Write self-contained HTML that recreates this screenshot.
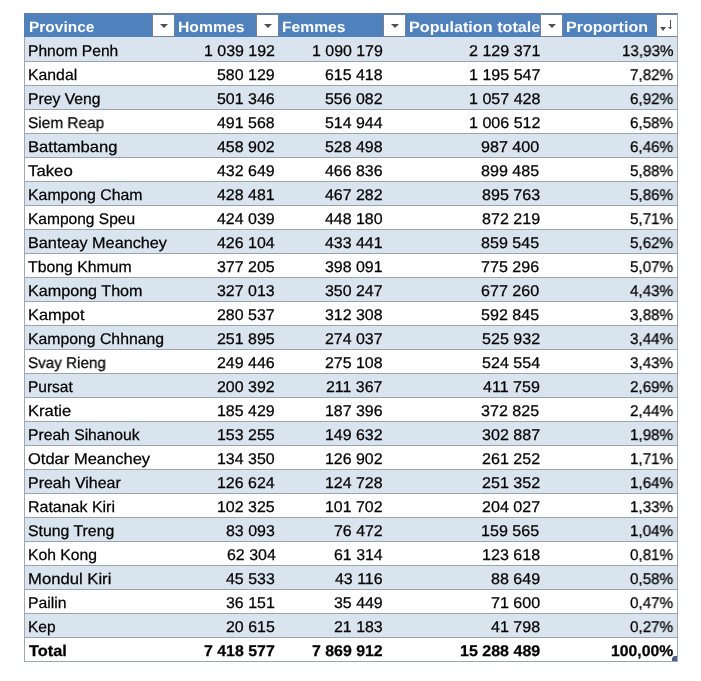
<!DOCTYPE html><html><head><meta charset="utf-8"><style>
html,body{margin:0;padding:0;background:#fff;width:701px;height:681px;overflow:hidden;position:relative;font-family:"Liberation Sans",sans-serif;}
.a{position:absolute;}
.t{position:absolute;white-space:nowrap;line-height:1;transform-origin:0 0;-webkit-text-stroke:0.25px currentColor;will-change:transform;text-rendering:geometricPrecision;}
.btn{position:absolute;width:21px;height:21px;background:#fff;border:1px solid #71829A;}
.tri{position:absolute;width:0;height:0;border-left:4px solid transparent;border-right:4px solid transparent;border-top:4px solid #505050;}
</style></head><body>

<div class="a" style="left:24px;top:13px;width:654px;height:24px;background:#4F81BD"></div>
<div class="t" style="left:28.57px;top:19.90px;font-size:15.0px;font-weight:bold;-webkit-text-stroke:0px #fff;color:#fff;transform:scaleX(1.0312)">Province</div>
<div class="t" style="left:178.35px;top:19.90px;font-size:15.0px;font-weight:bold;-webkit-text-stroke:0px #fff;color:#fff;transform:scaleX(1.0491)">Hommes</div>
<div class="t" style="left:281.56px;top:19.90px;font-size:15.0px;font-weight:bold;-webkit-text-stroke:0px #fff;color:#fff;transform:scaleX(1.0418)">Femmes</div>
<div class="t" style="left:409.02px;top:19.90px;font-size:15.0px;font-weight:bold;-webkit-text-stroke:0px #fff;color:#fff;transform:scaleX(1.0792)">Population totale</div>
<div class="t" style="left:565.93px;top:19.90px;font-size:15.0px;font-weight:bold;-webkit-text-stroke:0px #fff;color:#fff;transform:scaleX(1.0697)">Proportion</div>
<div class="btn" style="left:152px;top:14px"></div>
<div class="tri" style="left:159.5px;top:24px"></div>
<div class="btn" style="left:256px;top:14px"></div>
<div class="tri" style="left:263.5px;top:24px"></div>
<div class="btn" style="left:383px;top:14px"></div>
<div class="tri" style="left:390.5px;top:24px"></div>
<div class="btn" style="left:540px;top:14px"></div>
<div class="tri" style="left:547.5px;top:24px"></div>
<div class="btn" style="left:656px;top:14px;width:20px"></div>
<div class="tri" style="left:660.3px;top:27px;border-left-width:3.7px;border-right-width:3.7px"></div>
<div class="a" style="left:670px;top:20px;width:1px;height:9px;background:#505050"></div>
<div class="tri" style="left:668px;top:27px;border-left-width:2px;border-right-width:2px;border-top-width:2.5px"></div>
<div class="a" style="left:24px;top:37px;width:653px;height:24px;background:#D9E4EE"></div>
<div class="a" style="left:24px;top:61px;width:653px;height:1px;background:#9BA5AF"></div>
<div class="t" style="left:28.43px;top:43.68px;font-size:15.5px;color:#000;transform:scaleX(1.0072)">Phnom Penh</div>
<div class="t" style="left:204.14px;top:43.68px;font-size:15.5px;color:#000;transform:scaleX(1.0295)">1 039 192</div>
<div class="t" style="left:311.99px;top:43.68px;font-size:15.5px;color:#000;transform:scaleX(1.0272)">1 090 179</div>
<div class="t" style="left:468.73px;top:43.68px;font-size:15.5px;color:#000;transform:scaleX(1.0369)">2 129 371</div>
<div class="t" style="left:621.90px;top:43.68px;font-size:15.5px;color:#000;transform:scaleX(0.9798)">13,93%</div>
<div class="a" style="left:24px;top:85px;width:653px;height:1px;background:#9BA5AF"></div>
<div class="t" style="left:28.02px;top:67.68px;font-size:15.5px;color:#000;transform:scaleX(1.0189)">Kandal</div>
<div class="t" style="left:217.31px;top:67.68px;font-size:15.5px;color:#000;transform:scaleX(1.0295)">580 129</div>
<div class="t" style="left:325.11px;top:67.68px;font-size:15.5px;color:#000;transform:scaleX(1.0272)">615 418</div>
<div class="t" style="left:468.79px;top:67.68px;font-size:15.5px;color:#000;transform:scaleX(1.0369)">1 195 547</div>
<div class="t" style="left:629.88px;top:67.68px;font-size:15.5px;color:#000;transform:scaleX(0.9798)">7,82%</div>
<div class="a" style="left:24px;top:86px;width:653px;height:23px;background:#D9E4EE"></div>
<div class="a" style="left:24px;top:109px;width:653px;height:1px;background:#9BA5AF"></div>
<div class="t" style="left:28.42px;top:91.68px;font-size:15.5px;color:#000;transform:scaleX(1.0134)">Prey Veng</div>
<div class="t" style="left:216.74px;top:91.68px;font-size:15.5px;color:#000;transform:scaleX(1.0295)">501 346</div>
<div class="t" style="left:325.15px;top:91.68px;font-size:15.5px;color:#000;transform:scaleX(1.0272)">556 082</div>
<div class="t" style="left:468.69px;top:91.68px;font-size:15.5px;color:#000;transform:scaleX(1.0369)">1 057 428</div>
<div class="t" style="left:629.88px;top:91.68px;font-size:15.5px;color:#000;transform:scaleX(0.9798)">6,92%</div>
<div class="a" style="left:24px;top:133px;width:653px;height:1px;background:#9BA5AF"></div>
<div class="t" style="left:27.92px;top:115.68px;font-size:15.5px;color:#000;transform:scaleX(0.9939)">Siem Reap</div>
<div class="t" style="left:217.28px;top:115.68px;font-size:15.5px;color:#000;transform:scaleX(1.0295)">491 568</div>
<div class="t" style="left:325.26px;top:115.68px;font-size:15.5px;color:#000;transform:scaleX(1.0272)">514 944</div>
<div class="t" style="left:468.73px;top:115.68px;font-size:15.5px;color:#000;transform:scaleX(1.0369)">1 006 512</div>
<div class="t" style="left:629.88px;top:115.68px;font-size:15.5px;color:#000;transform:scaleX(0.9798)">6,58%</div>
<div class="a" style="left:24px;top:134px;width:653px;height:23px;background:#D9E4EE"></div>
<div class="a" style="left:24px;top:157px;width:653px;height:1px;background:#9BA5AF"></div>
<div class="t" style="left:28.47px;top:139.68px;font-size:15.5px;color:#000;transform:scaleX(1.0711)">Battambang</div>
<div class="t" style="left:217.32px;top:139.68px;font-size:15.5px;color:#000;transform:scaleX(1.0295)">458 902</div>
<div class="t" style="left:325.11px;top:139.68px;font-size:15.5px;color:#000;transform:scaleX(1.0272)">528 498</div>
<div class="t" style="left:481.42px;top:139.68px;font-size:15.5px;color:#000;transform:scaleX(1.0369)">987 400</div>
<div class="t" style="left:629.88px;top:139.68px;font-size:15.5px;color:#000;transform:scaleX(0.9798)">6,46%</div>
<div class="a" style="left:24px;top:181px;width:653px;height:1px;background:#9BA5AF"></div>
<div class="t" style="left:27.98px;top:163.68px;font-size:15.5px;color:#000;transform:scaleX(1.0818)">Takeo</div>
<div class="t" style="left:217.31px;top:163.68px;font-size:15.5px;color:#000;transform:scaleX(1.0295)">432 649</div>
<div class="t" style="left:324.57px;top:163.68px;font-size:15.5px;color:#000;transform:scaleX(1.0272)">466 836</div>
<div class="t" style="left:481.42px;top:163.68px;font-size:15.5px;color:#000;transform:scaleX(1.0369)">899 485</div>
<div class="t" style="left:629.88px;top:163.68px;font-size:15.5px;color:#000;transform:scaleX(0.9798)">5,88%</div>
<div class="a" style="left:24px;top:182px;width:653px;height:23px;background:#D9E4EE"></div>
<div class="a" style="left:24px;top:205px;width:653px;height:1px;background:#9BA5AF"></div>
<div class="t" style="left:28.01px;top:187.68px;font-size:15.5px;color:#000;transform:scaleX(1.0223)">Kampong Cham</div>
<div class="t" style="left:217.32px;top:187.68px;font-size:15.5px;color:#000;transform:scaleX(1.0295)">428 481</div>
<div class="t" style="left:325.15px;top:187.68px;font-size:15.5px;color:#000;transform:scaleX(1.0272)">467 282</div>
<div class="t" style="left:481.98px;top:187.68px;font-size:15.5px;color:#000;transform:scaleX(1.0369)">895 763</div>
<div class="t" style="left:629.88px;top:187.68px;font-size:15.5px;color:#000;transform:scaleX(0.9798)">5,86%</div>
<div class="a" style="left:24px;top:229px;width:653px;height:1px;background:#9BA5AF"></div>
<div class="t" style="left:28.03px;top:211.68px;font-size:15.5px;color:#000;transform:scaleX(1.0018)">Kampong Speu</div>
<div class="t" style="left:217.31px;top:211.68px;font-size:15.5px;color:#000;transform:scaleX(1.0295)">424 039</div>
<div class="t" style="left:324.57px;top:211.68px;font-size:15.5px;color:#000;transform:scaleX(1.0272)">448 180</div>
<div class="t" style="left:482.00px;top:211.68px;font-size:15.5px;color:#000;transform:scaleX(1.0369)">872 219</div>
<div class="t" style="left:629.88px;top:211.68px;font-size:15.5px;color:#000;transform:scaleX(0.9798)">5,71%</div>
<div class="a" style="left:24px;top:230px;width:653px;height:23px;background:#D9E4EE"></div>
<div class="a" style="left:24px;top:253px;width:653px;height:1px;background:#9BA5AF"></div>
<div class="t" style="left:28.49px;top:235.68px;font-size:15.5px;color:#000;transform:scaleX(1.0474)">Banteay Meanchey</div>
<div class="t" style="left:217.43px;top:235.68px;font-size:15.5px;color:#000;transform:scaleX(1.0295)">426 104</div>
<div class="t" style="left:325.14px;top:235.68px;font-size:15.5px;color:#000;transform:scaleX(1.0272)">433 441</div>
<div class="t" style="left:481.42px;top:235.68px;font-size:15.5px;color:#000;transform:scaleX(1.0369)">859 545</div>
<div class="t" style="left:629.88px;top:235.68px;font-size:15.5px;color:#000;transform:scaleX(0.9798)">5,62%</div>
<div class="a" style="left:24px;top:277px;width:653px;height:1px;background:#9BA5AF"></div>
<div class="t" style="left:28.02px;top:259.68px;font-size:15.5px;color:#000;transform:scaleX(1.0193)">Tbong Khmum</div>
<div class="t" style="left:216.74px;top:259.68px;font-size:15.5px;color:#000;transform:scaleX(1.0295)">377 205</div>
<div class="t" style="left:325.14px;top:259.68px;font-size:15.5px;color:#000;transform:scaleX(1.0272)">398 091</div>
<div class="t" style="left:481.42px;top:259.68px;font-size:15.5px;color:#000;transform:scaleX(1.0369)">775 296</div>
<div class="t" style="left:629.88px;top:259.68px;font-size:15.5px;color:#000;transform:scaleX(0.9798)">5,07%</div>
<div class="a" style="left:24px;top:278px;width:653px;height:23px;background:#D9E4EE"></div>
<div class="a" style="left:24px;top:301px;width:653px;height:1px;background:#9BA5AF"></div>
<div class="t" style="left:28.00px;top:283.68px;font-size:15.5px;color:#000;transform:scaleX(1.0412)">Kampong Thom</div>
<div class="t" style="left:217.29px;top:283.68px;font-size:15.5px;color:#000;transform:scaleX(1.0295)">327 013</div>
<div class="t" style="left:325.21px;top:283.68px;font-size:15.5px;color:#000;transform:scaleX(1.0272)">350 247</div>
<div class="t" style="left:481.42px;top:283.68px;font-size:15.5px;color:#000;transform:scaleX(1.0369)">677 260</div>
<div class="t" style="left:629.88px;top:283.68px;font-size:15.5px;color:#000;transform:scaleX(0.9798)">4,43%</div>
<div class="a" style="left:24px;top:325px;width:653px;height:1px;background:#9BA5AF"></div>
<div class="t" style="left:27.98px;top:307.68px;font-size:15.5px;color:#000;transform:scaleX(1.0581)">Kampot</div>
<div class="t" style="left:217.38px;top:307.68px;font-size:15.5px;color:#000;transform:scaleX(1.0295)">280 537</div>
<div class="t" style="left:325.11px;top:307.68px;font-size:15.5px;color:#000;transform:scaleX(1.0272)">312 308</div>
<div class="t" style="left:481.42px;top:307.68px;font-size:15.5px;color:#000;transform:scaleX(1.0369)">592 845</div>
<div class="t" style="left:629.88px;top:307.68px;font-size:15.5px;color:#000;transform:scaleX(0.9798)">3,88%</div>
<div class="a" style="left:24px;top:326px;width:653px;height:23px;background:#D9E4EE"></div>
<div class="a" style="left:24px;top:349px;width:653px;height:1px;background:#9BA5AF"></div>
<div class="t" style="left:28.02px;top:331.68px;font-size:15.5px;color:#000;transform:scaleX(1.0185)">Kampong Chhnang</div>
<div class="t" style="left:216.74px;top:331.68px;font-size:15.5px;color:#000;transform:scaleX(1.0295)">251 895</div>
<div class="t" style="left:325.21px;top:331.68px;font-size:15.5px;color:#000;transform:scaleX(1.0272)">274 037</div>
<div class="t" style="left:482.01px;top:331.68px;font-size:15.5px;color:#000;transform:scaleX(1.0369)">525 932</div>
<div class="t" style="left:629.88px;top:331.68px;font-size:15.5px;color:#000;transform:scaleX(0.9798)">3,44%</div>
<div class="a" style="left:24px;top:373px;width:653px;height:1px;background:#9BA5AF"></div>
<div class="t" style="left:27.93px;top:355.68px;font-size:15.5px;color:#000;transform:scaleX(0.9812)">Svay Rieng</div>
<div class="t" style="left:216.74px;top:355.68px;font-size:15.5px;color:#000;transform:scaleX(1.0295)">249 446</div>
<div class="t" style="left:325.11px;top:355.68px;font-size:15.5px;color:#000;transform:scaleX(1.0272)">275 108</div>
<div class="t" style="left:482.12px;top:355.68px;font-size:15.5px;color:#000;transform:scaleX(1.0369)">524 554</div>
<div class="t" style="left:629.88px;top:355.68px;font-size:15.5px;color:#000;transform:scaleX(0.9798)">3,43%</div>
<div class="a" style="left:24px;top:374px;width:653px;height:23px;background:#D9E4EE"></div>
<div class="a" style="left:24px;top:397px;width:653px;height:1px;background:#9BA5AF"></div>
<div class="t" style="left:28.44px;top:379.68px;font-size:15.5px;color:#000;transform:scaleX(0.9938)">Pursat</div>
<div class="t" style="left:217.32px;top:379.68px;font-size:15.5px;color:#000;transform:scaleX(1.0295)">200 392</div>
<div class="t" style="left:326.44px;top:379.68px;font-size:15.5px;color:#000;transform:scaleX(1.0272)">211 367</div>
<div class="t" style="left:483.24px;top:379.68px;font-size:15.5px;color:#000;transform:scaleX(1.0369)">411 759</div>
<div class="t" style="left:629.88px;top:379.68px;font-size:15.5px;color:#000;transform:scaleX(0.9798)">2,69%</div>
<div class="a" style="left:24px;top:421px;width:653px;height:1px;background:#9BA5AF"></div>
<div class="t" style="left:27.97px;top:403.68px;font-size:15.5px;color:#000;transform:scaleX(1.0675)">Kratie</div>
<div class="t" style="left:217.31px;top:403.68px;font-size:15.5px;color:#000;transform:scaleX(1.0295)">185 429</div>
<div class="t" style="left:324.57px;top:403.68px;font-size:15.5px;color:#000;transform:scaleX(1.0272)">187 396</div>
<div class="t" style="left:481.42px;top:403.68px;font-size:15.5px;color:#000;transform:scaleX(1.0369)">372 825</div>
<div class="t" style="left:629.88px;top:403.68px;font-size:15.5px;color:#000;transform:scaleX(0.9798)">2,44%</div>
<div class="a" style="left:24px;top:422px;width:653px;height:23px;background:#D9E4EE"></div>
<div class="a" style="left:24px;top:445px;width:653px;height:1px;background:#9BA5AF"></div>
<div class="t" style="left:28.42px;top:427.68px;font-size:15.5px;color:#000;transform:scaleX(1.0112)">Preah Sihanouk</div>
<div class="t" style="left:216.74px;top:427.68px;font-size:15.5px;color:#000;transform:scaleX(1.0295)">153 255</div>
<div class="t" style="left:325.15px;top:427.68px;font-size:15.5px;color:#000;transform:scaleX(1.0272)">149 632</div>
<div class="t" style="left:482.07px;top:427.68px;font-size:15.5px;color:#000;transform:scaleX(1.0369)">302 887</div>
<div class="t" style="left:629.88px;top:427.68px;font-size:15.5px;color:#000;transform:scaleX(0.9798)">1,98%</div>
<div class="a" style="left:24px;top:469px;width:653px;height:1px;background:#9BA5AF"></div>
<div class="t" style="left:28.01px;top:451.68px;font-size:15.5px;color:#000;transform:scaleX(1.0654)">Otdar Meanchey</div>
<div class="t" style="left:216.74px;top:451.68px;font-size:15.5px;color:#000;transform:scaleX(1.0295)">134 350</div>
<div class="t" style="left:325.15px;top:451.68px;font-size:15.5px;color:#000;transform:scaleX(1.0272)">126 902</div>
<div class="t" style="left:482.01px;top:451.68px;font-size:15.5px;color:#000;transform:scaleX(1.0369)">261 252</div>
<div class="t" style="left:629.88px;top:451.68px;font-size:15.5px;color:#000;transform:scaleX(0.9798)">1,71%</div>
<div class="a" style="left:24px;top:470px;width:653px;height:23px;background:#D9E4EE"></div>
<div class="a" style="left:24px;top:493px;width:653px;height:1px;background:#9BA5AF"></div>
<div class="t" style="left:28.41px;top:475.68px;font-size:15.5px;color:#000;transform:scaleX(1.0285)">Preah Vihear</div>
<div class="t" style="left:217.43px;top:475.68px;font-size:15.5px;color:#000;transform:scaleX(1.0295)">126 624</div>
<div class="t" style="left:325.11px;top:475.68px;font-size:15.5px;color:#000;transform:scaleX(1.0272)">124 728</div>
<div class="t" style="left:482.01px;top:475.68px;font-size:15.5px;color:#000;transform:scaleX(1.0369)">251 352</div>
<div class="t" style="left:629.88px;top:475.68px;font-size:15.5px;color:#000;transform:scaleX(0.9798)">1,64%</div>
<div class="a" style="left:24px;top:517px;width:653px;height:1px;background:#9BA5AF"></div>
<div class="t" style="left:28.41px;top:499.68px;font-size:15.5px;color:#000;transform:scaleX(1.0301)">Ratanak Kiri</div>
<div class="t" style="left:216.74px;top:499.68px;font-size:15.5px;color:#000;transform:scaleX(1.0295)">102 325</div>
<div class="t" style="left:325.15px;top:499.68px;font-size:15.5px;color:#000;transform:scaleX(1.0272)">101 702</div>
<div class="t" style="left:482.07px;top:499.68px;font-size:15.5px;color:#000;transform:scaleX(1.0369)">204 027</div>
<div class="t" style="left:629.88px;top:499.68px;font-size:15.5px;color:#000;transform:scaleX(0.9798)">1,33%</div>
<div class="a" style="left:24px;top:518px;width:653px;height:23px;background:#D9E4EE"></div>
<div class="a" style="left:24px;top:541px;width:653px;height:1px;background:#9BA5AF"></div>
<div class="t" style="left:27.90px;top:523.68px;font-size:15.5px;color:#000;transform:scaleX(1.0211)">Stung Treng</div>
<div class="t" style="left:225.99px;top:523.68px;font-size:15.5px;color:#000;transform:scaleX(1.0295)">83 093</div>
<div class="t" style="left:333.80px;top:523.68px;font-size:15.5px;color:#000;transform:scaleX(1.0272)">76 472</div>
<div class="t" style="left:481.42px;top:523.68px;font-size:15.5px;color:#000;transform:scaleX(1.0369)">159 565</div>
<div class="t" style="left:629.88px;top:523.68px;font-size:15.5px;color:#000;transform:scaleX(0.9798)">1,04%</div>
<div class="a" style="left:24px;top:565px;width:653px;height:1px;background:#9BA5AF"></div>
<div class="t" style="left:28.02px;top:547.68px;font-size:15.5px;color:#000;transform:scaleX(1.0126)">Koh Kong</div>
<div class="t" style="left:226.60px;top:547.68px;font-size:15.5px;color:#000;transform:scaleX(1.0295)">62 304</div>
<div class="t" style="left:334.41px;top:547.68px;font-size:15.5px;color:#000;transform:scaleX(1.0272)">61 314</div>
<div class="t" style="left:481.97px;top:547.68px;font-size:15.5px;color:#000;transform:scaleX(1.0369)">123 618</div>
<div class="t" style="left:629.88px;top:547.68px;font-size:15.5px;color:#000;transform:scaleX(0.9798)">0,81%</div>
<div class="a" style="left:24px;top:566px;width:653px;height:23px;background:#D9E4EE"></div>
<div class="a" style="left:24px;top:589px;width:653px;height:1px;background:#9BA5AF"></div>
<div class="t" style="left:28.36px;top:571.68px;font-size:15.5px;color:#000;transform:scaleX(1.0752)">Mondul Kiri</div>
<div class="t" style="left:225.99px;top:571.68px;font-size:15.5px;color:#000;transform:scaleX(1.0295)">45 533</div>
<div class="t" style="left:334.81px;top:571.68px;font-size:15.5px;color:#000;transform:scaleX(1.0272)">43 116</div>
<div class="t" style="left:490.74px;top:571.68px;font-size:15.5px;color:#000;transform:scaleX(1.0369)">88 649</div>
<div class="t" style="left:629.88px;top:571.68px;font-size:15.5px;color:#000;transform:scaleX(0.9798)">0,58%</div>
<div class="a" style="left:24px;top:613px;width:653px;height:1px;background:#9BA5AF"></div>
<div class="t" style="left:28.42px;top:595.68px;font-size:15.5px;color:#000;transform:scaleX(1.0180)">Pailin</div>
<div class="t" style="left:225.99px;top:595.68px;font-size:15.5px;color:#000;transform:scaleX(1.0295)">36 151</div>
<div class="t" style="left:333.80px;top:595.68px;font-size:15.5px;color:#000;transform:scaleX(1.0272)">35 449</div>
<div class="t" style="left:490.69px;top:595.68px;font-size:15.5px;color:#000;transform:scaleX(1.0369)">71 600</div>
<div class="t" style="left:629.88px;top:595.68px;font-size:15.5px;color:#000;transform:scaleX(0.9798)">0,47%</div>
<div class="a" style="left:24px;top:614px;width:653px;height:23px;background:#D9E4EE"></div>
<div class="a" style="left:24px;top:637px;width:653px;height:1px;background:#9BA5AF"></div>
<div class="t" style="left:28.04px;top:619.68px;font-size:15.5px;color:#000;transform:scaleX(0.9933)">Kep</div>
<div class="t" style="left:225.96px;top:619.68px;font-size:15.5px;color:#000;transform:scaleX(1.0295)">20 615</div>
<div class="t" style="left:333.80px;top:619.68px;font-size:15.5px;color:#000;transform:scaleX(1.0272)">21 183</div>
<div class="t" style="left:490.74px;top:619.68px;font-size:15.5px;color:#000;transform:scaleX(1.0369)">41 798</div>
<div class="t" style="left:629.88px;top:619.68px;font-size:15.5px;color:#000;transform:scaleX(0.9798)">0,27%</div>
<div class="a" style="left:24px;top:661px;width:653px;height:1px;background:#9BA5AF"></div>
<div class="t" style="left:28.67px;top:643.68px;font-size:15.5px;font-weight:bold;-webkit-text-stroke:0.25px #000;color:#000;transform:scaleX(1.0564)">Total</div>
<div class="t" style="left:204.30px;top:643.68px;font-size:15.5px;font-weight:bold;-webkit-text-stroke:0.25px #000;color:#000;transform:scaleX(1.0260)">7 418 577</div>
<div class="t" style="left:312.10px;top:643.68px;font-size:15.5px;font-weight:bold;-webkit-text-stroke:0.25px #000;color:#000;transform:scaleX(1.0240)">7 869 912</div>
<div class="t" style="left:459.69px;top:643.68px;font-size:15.5px;font-weight:bold;-webkit-text-stroke:0.25px #000;color:#000;transform:scaleX(1.0340)">15 288 489</div>
<div class="t" style="left:610.90px;top:643.68px;font-size:15.5px;font-weight:bold;-webkit-text-stroke:0.25px #000;color:#000;transform:scaleX(1.0163)">100,00%</div>
<div class="a" style="left:24px;top:37px;width:1px;height:625px;background:#A0A8B0"></div>
<div class="a" style="left:677px;top:13px;width:1px;height:649px;background:#A0A8B0"></div>
<div class="a" style="left:672px;top:656px;width:5px;height:5px;background:#4E5F8C;clip-path:polygon(100% 0,100% 100%,0 100%,0 40%,40% 0)"></div>
<div class="a" style="left:24px;top:13px;width:654px;height:1px;background:#6383AE"></div>
</body></html>
